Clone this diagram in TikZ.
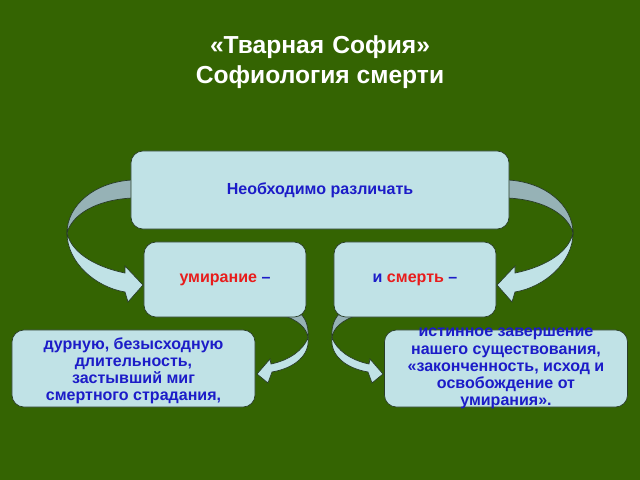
\documentclass[tikz,border=0pt]{standalone}
\usepackage{fontspec}
\setmainfont{Liberation Sans}
\definecolor{bggreen}{RGB}{52,100,2}
\definecolor{boxblue}{RGB}{192,226,230}
\definecolor{arrowgray}{RGB}{150,178,182}
\definecolor{txtblue}{RGB}{28,28,200}
\definecolor{txtred}{RGB}{232,28,28}
\definecolor{edgeline}{RGB}{40,60,40}
\tikzset{
  box/.style={draw=edgeline, line width=0.5pt, fill=boxblue, rounded corners=0.3cm, align=center, text=txtblue, font=\bfseries\fontsize{11.4}{12}\selectfont},
  backpart/.style={draw=edgeline, line width=0.5pt, fill=arrowgray},
  frontpart/.style={draw=edgeline, line width=0.5pt, fill=boxblue},
  title/.style={text=white, align=center, font=\bfseries\fontsize{17.5}{21.3}\selectfont}
}
\begin{document}
\begin{tikzpicture}[x=0.025cm, y=-0.025cm]
\fill[bggreen] (0,0) rectangle (640,480);
\node[title] (title) at (320,62) {«Тварная\,\,София»\\Софиология смерти};
% big curved arrows, left one and its mirror
\foreach \s/\d in {0/1, 640/-1} {
\begin{scope}[shift={(\s,0)}, xscale=\d]
\draw[backpart] (132,180) .. controls (95,182) and (67,205) .. (67,233) .. controls (72,215) and (95,200) .. (132,198) -- cycle;
\draw[frontpart] (67,233) .. controls (67,262) and (95,287) .. (125,292) -- (128,302) -- (143,285) -- (125,266) -- (125,273) .. controls (100,268) and (72,255) .. (67,233) -- cycle;
\end{scope}
}
% small curved arrows
\foreach \s/\d in {0/1, 640/-1} {
\begin{scope}[shift={(\s,0)}, xscale=\d]
\draw[backpart] (282,315) .. controls (298,320) and (307,328) .. (308,338) .. controls (309,328) and (306,320) .. (302,315) -- cycle;
\draw[frontpart] (308,338) .. controls (310,355) and (295,368) .. (272,372) -- (268,383) -- (257,374) -- (270,359) -- (271,364) .. controls (290,360) and (303,350) .. (308,338) -- cycle;
\end{scope}
}
\node[box, minimum width=9.45cm, minimum height=1.95cm] (distinguish) at (320,190) {Необходимо различать};
\node[box, minimum width=4.05cm, minimum height=1.875cm] (dying) at (225,279.5) {\textcolor{txtred}{умирание} –};
\node[box, minimum width=4.05cm, minimum height=1.875cm] (death) at (415,279.5) {и \textcolor{txtred}{смерть} –};
\node[box, minimum width=6.075cm, minimum height=1.925cm] (badtime) at (133.5,368.5) {};
\node[text=txtblue, align=center, inner sep=0pt, font=\bfseries\fontsize{11.4}{12}\selectfont] (badtimetext) at (133.5,370.5) {дурную, безысходную\\длительность,\\застывший миг\\смертного страдания,};
\node[box, minimum width=6.075cm, minimum height=1.925cm] (trueend) at (506,368.5) {};
\node[text=txtblue, align=center, inner sep=0pt, font=\bfseries\fontsize{11.4}{12.2}\selectfont] (trueendtext) at (trueend.center) {истинное завершение\\нашего существования,\\«законченность, исход и\\освобождение от\\умирания».};
\end{tikzpicture}
\end{document}
